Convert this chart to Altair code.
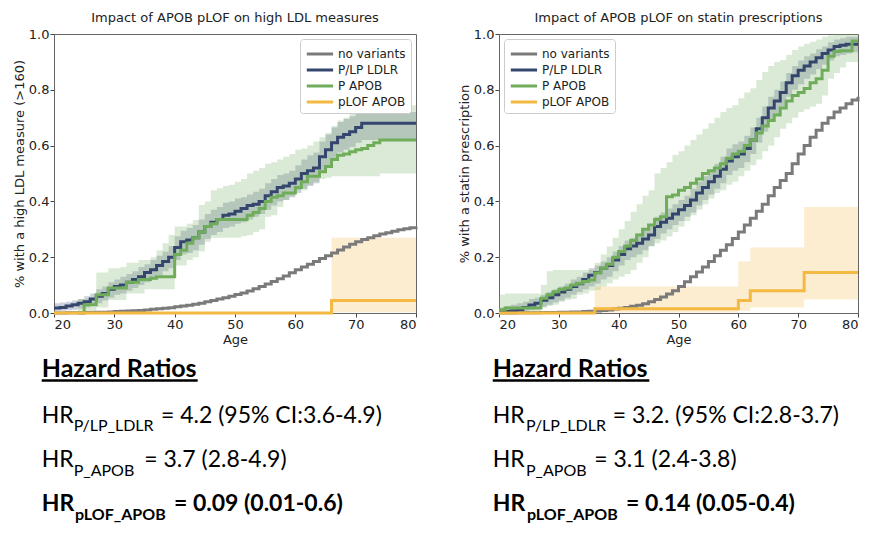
import altair as alt
import pandas as pd

AGES = list(range(20, 81))
SERIES = ["no variants", "P/LP LDLR", "P APOB", "pLOF APOB"]
COLORS = ["#7a7a7a", "#34466e", "#70ad5a", "#f4b942"]

# ---------------- left panel: high LDL measures ----------------
L_NOVAR = [0, 0, .001, .001, .001, .002, .002, .003, .003, .004, .005,
           .006, .007, .008, .009, .011, .013, .015, .017, .019, .022,
           .025, .028, .031, .035, .04, .045, .05, .055, .06, .066,
           .072, .079, .087, .095, .104, .113, .123, .133, .144, .155,
           .165, .175, .185, .195, .205, .215, .226, .237, .246, .255,
           .263, .27, .277, .283, .288, .293, .298, .302, .306, .31]
L_LDLR = [.018, .02, .025, .03, .035, .04, .05, .06, .07, .085, .095,
          .10, .11, .12, .13, .145, .155, .17, .185, .20, .235,
          .255, .262, .27, .29, .31, .325, .335, .35, .355, .365,
          .375, .385, .39, .40, .42, .435, .45, .455, .465, .48,
          .50, .51, .52, .56, .585, .61, .63, .64, .65, .665,
          .68, .68, .68, .68, .68, .68, .68, .68, .68, .68]
L_LDLR_LO = [.005, .008, .01, .012, .015, .02, .025, .035, .045, .055, .065,
             .07, .08, .09, .10, .11, .12, .135, .15, .16, .19,
             .21, .215, .225, .245, .265, .28, .29, .305, .31, .32,
             .325, .335, .345, .355, .37, .385, .40, .405, .415, .43,
             .445, .455, .465, .505, .53, .555, .575, .585, .595, .61,
             .62, .62, .62, .62, .62, .62, .62, .62, .62, .62]
L_LDLR_HI = [.035, .038, .04, .045, .05, .06, .07, .085, .095, .11, .12,
             .13, .14, .15, .165, .175, .19, .205, .22, .24, .275,
             .295, .305, .315, .335, .355, .37, .38, .395, .40, .41,
             .415, .425, .435, .445, .465, .48, .495, .50, .51, .53,
             .55, .565, .575, .615, .64, .665, .685, .695, .705, .715,
             .72, .72, .72, .72, .72, .72, .72, .72, .72, .72]
L_APOB = [None, None, None, None, 0, .03, .03, .065, .065, .09, .09,
          .09, .11, .11, .12, .12, .125, .13, .13, .13, .21,
          .225, .25, .27, .29, .31, .32, .335, .335, .335, .335,
          .335, .35, .36, .375, .40, .415, .42, .43, .43, .45,
          .47, .49, .49, .506, .525, .55, .565, .57, .578, .585,
          .59, .60, .61, .62, .62, .62, .62, .62, .62, .62]
L_APOB_LO = [None, None, None, None, 0, 0, 0, .02, .02, .047, .047,
             .047, .07, .07, .07, .085, .085, .085, .085, .085, .17,
             .17, .19, .20, .22, .255, .27, .27, .27, .27, .27,
             .275, .28, .29, .30, .345, .35, .38, .405, .42, .44,
             .44, .46, .47, .48, .485, .49, .49, .49, .49, .49,
             .49, .49, .49, .50, .50, .50, .50, .50, .50, .50]
L_APOB_HI = [None, None, None, None, .05, .05, .055, .145, .145, .16, .16,
             .165, .18, .18, .19, .19, .20, .225, .25, .28, .31,
             .31, .32, .333, .387, .40, .44, .447, .455, .46, .47,
             .48, .50, .51, .52, .535, .54, .55, .56, .57, .585,
             .59, .60, .615, .63, .645, .67, .69, .70, .715, .73,
             .74, .745, .745, .745, .745, .745, .745, .745, .745, .745]
L_PLOF = [0] * 46 + [.045] * 15
L_PLOF_LO = [None] * 46 + [.003] * 15
L_PLOF_HI = [None] * 46 + [.27] * 15

# ---------------- right panel: statin prescriptions ----------------
R_NOVAR = [0, 0, 0, .001, .001, .001, .001, .002, .002, .002, .003,
           .003, .004, .004, .005, .006, .007, .009, .011, .014, .017,
           .02, .024, .028, .033, .04, .048, .057, .068, .08, .095,
           .112, .13, .147, .165, .185, .205, .225, .245, .267, .29,
           .315, .34, .365, .39, .42, .45, .475, .50, .535, .57,
           .60, .63, .655, .68, .70, .72, .735, .75, .763, .775]
R_LDLR = [.003, .005, .008, .012, .02, .029, .035, .046, .055, .065, .075,
          .085, .095, .105, .12, .135, .145, .16, .17, .19, .21,
          .23, .24, .25, .265, .28, .31, .325, .34, .355, .37,
          .385, .405, .43, .45, .47, .49, .515, .545, .56, .57,
          .59, .62, .66, .70, .735, .76, .79, .825, .85, .87,
          .885, .90, .915, .93, .943, .955, .96, .963, .963, .963]
R_LDLR_LO = [0, 0, .002, .004, .008, .012, .016, .022, .03, .038, .045,
             .055, .065, .075, .085, .095, .105, .12, .13, .15, .17,
             .19, .20, .21, .225, .24, .265, .285, .30, .315, .33,
             .345, .36, .385, .405, .425, .445, .465, .495, .51, .52,
             .54, .57, .61, .65, .685, .71, .74, .775, .80, .82,
             .84, .855, .875, .89, .905, .92, .925, .93, .935, .935]
R_LDLR_HI = [.02, .025, .03, .035, .04, .05, .055, .065, .075, .085, .095,
             .105, .12, .13, .145, .16, .17, .185, .20, .22, .24,
             .26, .27, .285, .30, .315, .345, .36, .375, .39, .405,
             .42, .445, .47, .49, .51, .535, .56, .59, .605, .615,
             .635, .665, .70, .74, .775, .80, .83, .86, .885, .905,
             .92, .93, .945, .955, .97, .98, .985, .99, .99, .99]
R_APOB = [.012, .018, .018, .018, .018, .018, .018, .053, .065, .076, .085,
          .09, .10, .107, .113, .118, .143, .16, .175, .20, .22,
          .24, .26, .28, .30, .315, .335, .345, .417, .423, .44,
          .45, .465, .48, .50, .51, .52, .535, .555, .57, .58,
          .60, .62, .645, .67, .69, .71, .735, .76, .78, .79,
          .805, .825, .84, .87, .92, .937, .94, .94, .975, .975]
R_APOB_LO = [0, 0, 0, 0, 0, 0, 0, .02, .025, .03, .04,
             .047, .05, .065, .07, .08, .082, .095, .107, .12, .13,
             .14, .154, .18, .20, .238, .25, .26, .274, .29, .31,
             .33, .35, .37, .39, .41, .43, .44, .46, .47, .49,
             .51, .53, .55, .58, .60, .63, .66, .68, .70, .72,
             .73, .74, .75, .78, .84, .86, .88, .90, .90, .90]
R_APOB_HI = [.065, .07, .07, .07, .07, .07, .07, .10, .15, .154, .154,
             .154, .154, .154, .154, .154, .18, .21, .238, .27, .30,
             .33, .363, .39, .42, .44, .50, .52, .54, .566, .58,
             .60, .62, .64, .66, .68, .70, .72, .735, .745, .77,
             .79, .806, .835, .864, .885, .90, .907, .925, .943, .955,
             .965, .972, .98, .99, .995, 1.0, 1.0, 1.0, 1.0, 1.0]
R_PLOF = [0] * 16 + [.015] * 24 + [.045] * 2 + [.08] * 9 + [.145] * 10
R_PLOF_LO = [None] * 16 + [.002] * 24 + [.008] * 2 + [.02] * 9 + [.048] * 10
R_PLOF_HI = [None] * 16 + [.095] * 24 + [.185] * 2 + [.235] * 9 + [.38] * 10

# ---------------- hazard-ratio text ----------------
L_HR = [("P/LP_LDLR", "= 4.2 (95% CI:3.6-4.9)", False),
        ("P_APOB", "= 3.7 (2.8-4.9)", False),
        ("pLOF_APOB", "= 0.09 (0.01-0.6)", True)]
R_HR = [("P/LP_LDLR", "= 3.2. (95% CI:2.8-3.7)", False),
        ("P_APOB", "= 3.1 (2.4-3.8)", False),
        ("pLOF_APOB", "= 0.14 (0.05-0.4)", True)]


def lines_df(d):
    rows = []
    for s, vals in d.items():
        for a, v in zip(AGES, vals):
            if v is not None:
                rows.append({"age": a, "series": s, "value": v})
    return pd.DataFrame(rows)


def bands_df(d):
    rows = []
    for s, (lo, hi) in d.items():
        for a, l, h in zip(AGES, lo, hi):
            if l is not None:
                rows.append({"age": a, "series": s, "lo": l, "hi": h})
    return pd.DataFrame(rows)


FONT = "Lato"


def text_layers(hr, x_hr, x_sub, x_rest, under_w):
    layers = []
    def t(txt, x, y, size, bold):
        return alt.Chart(pd.DataFrame({"label": [txt]})).mark_text(
            align="left", baseline="alphabetic", font=FONT, fontSize=size,
            fontWeight="bold" if bold else "normal", color="black"
        ).encode(x=alt.value(x), y=alt.value(y), text="label:N")
    layers.append(t("Hazard Ratios", x_hr, 343, 25, True))
    layers.append(alt.Chart(pd.DataFrame({"label": ["u"]})).mark_rule(
        color="black", strokeWidth=2.5).encode(
        x=alt.value(x_hr), x2=alt.value(x_hr + under_w), y=alt.value(346.5)))
    ys = [(389, 396.5), (432.7, 441.5), (476.5, 485.5)]
    for (sub, rest, bold), (yb, ys_), xs, xr in zip(hr, ys, x_sub, x_rest):
        layers.append(t("HR", x_hr, yb, 23, bold))
        layers.append(t(sub, xs, ys_, 16, bold))
        layers.append(t(rest, xr, yb, 23, bold))
    return layers


def panel(title, ytitle, lines, bands, width, legend_orient, legend_offset, texts):
    ldf = lines_df(lines)
    bdf = bands_df(bands)
    xenc = alt.X("age:Q", scale=alt.Scale(domain=[20, 80], nice=False),
                 axis=alt.Axis(values=list(range(20, 81, 10)), title="Age"))
    yaxis = alt.Axis(values=[0, .2, .4, .6, .8, 1.0], format=".1f", title=ytitle)
    yscale = alt.Scale(domain=[0, 1], nice=False)
    band = alt.Chart(bdf).mark_area(interpolate="step-after", opacity=0.25).encode(
        x=xenc,
        y=alt.Y("lo:Q", scale=yscale, axis=yaxis),
        y2="hi:Q",
        fill=alt.Fill("series:N", scale=alt.Scale(domain=SERIES, range=COLORS), legend=None),
    )
    legend = alt.Legend(title=None, orient=legend_orient, offset=legend_offset,
                        symbolType="M-1,0H2.2", symbolStrokeWidth=3, symbolSize=270,
                        labelFont="DejaVu Sans", labelFontSize=12, labelColor="#222",
                        strokeColor="#cccccc", fillColor="white", padding=5,
                        cornerRadius=3, labelOffset=13, rowPadding=0)
    layers = [band]
    for s in SERIES:
        layers.append(alt.Chart(ldf[ldf.series == s]).mark_line(
            interpolate="step-after", strokeWidth=3).encode(
            x=xenc,
            y=alt.Y("value:Q", scale=yscale, axis=yaxis),
            color=alt.Color("series:N", scale=alt.Scale(domain=SERIES, range=COLORS),
                            legend=legend),
        ))
    layers += texts
    return alt.layer(*layers).properties(
        width=width, height=279,
        title=alt.Title(title, font="DejaVu Sans", fontSize=13, fontWeight="normal",
                        color="#222", offset=3),
    )


left = panel("Impact of APOB pLOF on high LDL measures",
             "% with a high LDL measure (>160)",
             {"no variants": L_NOVAR, "P/LP LDLR": L_LDLR, "P APOB": L_APOB, "pLOF APOB": L_PLOF},
             {"P/LP LDLR": (L_LDLR_LO, L_LDLR_HI), "P APOB": (L_APOB_LO, L_APOB_HI),
              "pLOF APOB": (L_PLOF_LO, L_PLOF_HI)},
             362, "top-right", 5,
             text_layers(L_HR, -12.3, [19.7, 19.7, 21], [107, 90.3, 120], 156))
right = panel("Impact of APOB pLOF on statin prescriptions",
              "% with a statin prescription",
              {"no variants": R_NOVAR, "P/LP LDLR": R_LDLR, "P APOB": R_APOB, "pLOF APOB": R_PLOF},
              {"P/LP LDLR": (R_LDLR_LO, R_LDLR_HI), "P APOB": (R_APOB_LO, R_APOB_HI),
               "pLOF APOB": (R_PLOF_LO, R_PLOF_HI)},
              359, "top-left", 5,
              text_layers(R_HR, -6.3, [27, 27, 28], [113.7, 95.3, 127], 156.6))

chart = alt.hconcat(left, right, spacing=34).properties(
    padding={"left": 4, "top": 3, "right": 0, "bottom": 0}
).configure_axis(
    labelFont="DejaVu Sans", labelFontSize=13, labelColor="#222",
    titleFont="DejaVu Sans", titleFontSize=13, titleFontWeight="normal", titleColor="#222",
    tickColor="#444", tickSize=4, labelPadding=1, titlePadding=2, grid=False,
    domainColor="#666",
).configure_view(stroke="#666", strokeWidth=1)

chart.save("out.html", embed_options={"renderer": "svg", "actions": False})
